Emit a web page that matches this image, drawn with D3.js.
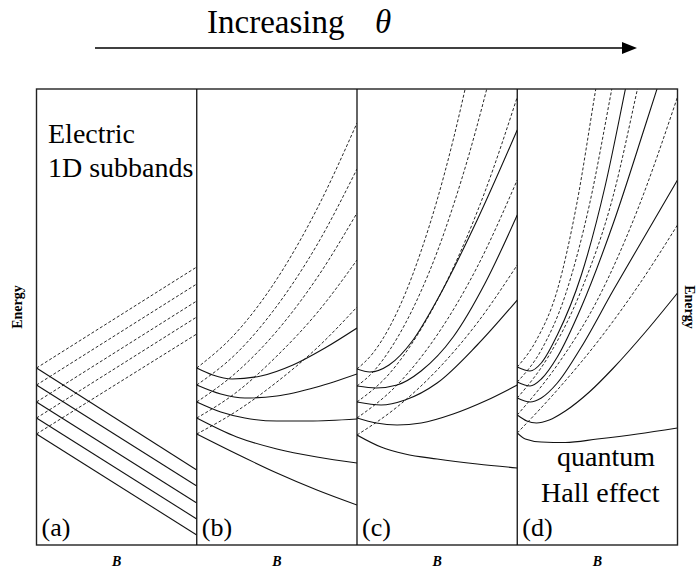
<!DOCTYPE html>
<html>
<head>
<meta charset="utf-8">
<script src="https://cdn.jsdelivr.net/npm/d3@7"></script>
<style>
  body { margin: 0; background: #fff; }
</style>
</head>
<body>
<svg id="chart" width="698" height="572" font-family="'Liberation Serif', 'Times New Roman', Times, 'DejaVu Serif', serif"></svg>
<script>
// Panel captions, axis names and annotations
const panelLabels = ["(a)", "(b)", "(c)", "(d)"];
const xLabel = "B";
const yLabel = "Energy";
const titleText = "Increasing";
const titleSymbol = "\u03B8";

// Subband energies vs. magnetic field B (B spans 0..1 across each panel,
// energy in arbitrary units). Solid and dashed branches per panel.
const solidA = [
  [[0, 177], [1, 75]],
  [[0, 160], [1, 59]],
  [[0, 143], [1, 42]],
  [[0, 127], [1, 26]],
  [[0, 111], [1, 10]]
];
const dashedA = [
  [[0, 177], [1, 278]],
  [[0, 160], [1, 261]],
  [[0, 143], [1, 244]],
  [[0, 127], [1, 228]],
  [[0, 111], [1, 211]]
];

const solidB = [
  [[0, 177], [0.1, 170], [0.22, 166], [0.4, 169], [0.6, 180], [0.8, 197], [1, 217]],
  [[0, 160], [0.15, 151], [0.3, 147], [0.5, 149], [0.75, 158], [1, 171]],
  [[0, 143], [0.15, 133], [0.3, 127], [0.5, 124], [0.7, 124], [1, 126]],
  [[0, 127], [0.25, 108], [0.5, 96], [0.75, 88], [1, 82]],
  [[0, 111], [0.25, 91], [0.5, 72], [0.75, 55], [1, 40]]
];
const dashedB = [
  [[0, 177], [0.25, 213], [0.5, 266], [0.75, 336], [1, 422]],
  [[0, 160], [0.25, 192], [0.5, 239], [0.75, 300], [1, 376]],
  [[0, 143], [0.25, 173], [0.5, 214], [0.75, 267], [1, 332]],
  [[0, 127], [0.25, 153], [0.5, 189], [0.75, 232], [1, 285]],
  [[0, 111], [0.25, 134], [0.5, 163], [0.75, 197], [1, 238]]
];

const solidC = [
  [[0, 176], [0.08, 173], [0.2, 180], [0.35, 205], [0.5, 245], [0.75, 325], [1, 415]],
  [[0, 159], [0.12, 157], [0.25, 160], [0.4, 174], [0.6, 208], [0.8, 262], [1, 330]],
  [[0, 143], [0.15, 140], [0.3, 145], [0.5, 162], [0.75, 200], [1, 245]],
  [[0, 127], [0.12, 122], [0.25, 120], [0.4, 122], [0.6, 131], [0.8, 144], [1, 160]],
  [[0, 110], [0.15, 98], [0.3, 91], [0.5, 86], [0.75, 81], [1, 77]]
];
const dashedC = [
  [[0, 176], [0.1, 192], [0.2, 217], [0.3, 251], [0.4, 294], [0.5, 345], [0.6, 405], [0.7, 474]],
  [[0, 159], [0.1, 173], [0.2, 194], [0.3, 221], [0.4, 254], [0.5, 293], [0.6, 339], [0.7, 391], [0.8, 450], [0.9, 515]],
  [[0, 143], [0.2, 171], [0.4, 216], [0.6, 277], [0.8, 354], [1, 448]],
  [[0, 127], [0.25, 160], [0.5, 210], [0.75, 278], [1, 365]],
  [[0, 110], [0.25, 138], [0.5, 175], [0.75, 222], [1, 280]]
];

const solidD = [
  [[0, 178], [0.08, 174], [0.15, 182], [0.25, 210], [0.4, 270], [0.55, 360], [0.675, 456], [0.8, 555]],
  [[0, 163], [0.08, 159], [0.15, 166], [0.25, 188], [0.4, 238], [0.6, 322], [0.8, 420], [0.9, 470], [1, 520]],
  [[0, 147], [0.08, 143], [0.15, 147], [0.25, 162], [0.4, 198], [0.6, 255], [0.8, 310], [1, 365]],
  [[0, 130], [0.06, 124], [0.12, 122], [0.2, 125], [0.3, 134], [0.45, 153], [0.6, 177], [0.8, 213], [1, 252]],
  [[0, 112], [0.05, 106], [0.15, 103], [0.3, 102.5], [0.5, 106], [0.75, 111], [1, 117]]
];
const dashedD = [
  [[0, 178], [0.12, 205], [0.25, 255], [0.37, 340], [0.49, 456], [0.6, 560]],
  [[0, 163], [0.15, 195], [0.3, 250], [0.45, 340], [0.59, 456], [0.7, 550]],
  [[0, 147], [0.2, 190], [0.4, 255], [0.6, 350], [0.75, 456], [0.85, 530]],
  [[0, 130], [0.25, 180], [0.5, 245], [0.75, 335], [1, 448]],
  [[0, 112], [0.25, 155], [0.5, 203], [0.75, 258], [1, 320]]
];

const panelSolid = [solidA, solidB, solidC, solidD];
const panelDashed = [dashedA, dashedB, dashedC, dashedD];

const svg = d3.select("#chart");
const serif = "'Liberation Serif', 'Times New Roman', Times, 'DejaVu Serif', serif";
const frame = { left: 36.5, right: 677.5, top: 89, bottom: 545 };

const y = d3.scaleLinear().domain([0, 456]).range([frame.bottom, frame.top]);
const band = d3.scaleBand()
  .domain(panelLabels)
  .range([frame.left, frame.right])
  .padding(0);

const defs = svg.append("defs");

function addText(attrs, str) {
  const t = svg.append("text").attr("font-family", serif).attr("fill", "#000");
  Object.entries(attrs).forEach(([k, v]) => t.attr(k, v));
  return t.text(str);
}

panelLabels.forEach((lab, i) => {
  const x0 = band(lab);
  const x = d3.scaleLinear().domain([0, 1]).range([x0, x0 + band.bandwidth()]);
  const clipId = "clip-" + i;
  defs.append("clipPath").attr("id", clipId)
    .append("rect")
    .attr("x", x0).attr("y", frame.top)
    .attr("width", band.bandwidth()).attr("height", frame.bottom - frame.top);

  const line = d3.line()
    .x(d => x(d[0]))
    .y(d => y(d[1]))
    .curve(d3.curveMonotoneX);

  const g = svg.append("g").attr("clip-path", `url(#${clipId})`);

  g.selectAll("path.dashed")
    .data(panelDashed[i])
    .join("path")
    .attr("class", "dashed")
    .attr("d", line)
    .attr("fill", "none")
    .attr("stroke", "#111")
    .attr("stroke-width", 0.9)
    .attr("stroke-dasharray", "3,2");

  g.selectAll("path.solid")
    .data(panelSolid[i])
    .join("path")
    .attr("class", "solid")
    .attr("d", line)
    .attr("fill", "none")
    .attr("stroke", "#111")
    .attr("stroke-width", 1.1);

  // panel caption
  addText({ x: x0 + 5, y: frame.bottom - 9, "font-size": 26 }, lab);

  // B label below each panel
  addText({
    x: x0 + band.bandwidth() / 2, y: 566, "text-anchor": "middle",
    "font-size": 14, "font-weight": "bold", "font-style": "italic"
  }, xLabel);
});

// frame and panel dividers
svg.append("rect")
  .attr("x", frame.left).attr("y", frame.top)
  .attr("width", frame.right - frame.left)
  .attr("height", frame.bottom - frame.top)
  .attr("fill", "none")
  .attr("stroke", "#222")
  .attr("stroke-width", 1.4);

svg.selectAll("line.divider")
  .data(panelLabels.slice(1))
  .join("line")
  .attr("class", "divider")
  .attr("x1", d => band(d)).attr("x2", d => band(d))
  .attr("y1", frame.top).attr("y2", frame.bottom)
  .attr("stroke", "#111")
  .attr("stroke-width", 1.3);

// annotations
addText({ x: 48, y: 143, "font-size": 28 }, "Electric");
addText({ x: 48, y: 177, "font-size": 28 }, "1D subbands");
addText({ x: 557, y: 466, "font-size": 28 }, "quantum");
addText({ x: 541, y: 502, "font-size": 28 }, "Hall effect");

// energy axis names on both sides
const midY = (frame.top + frame.bottom) / 2;
addText({
  transform: `translate(22,${midY - 10}) rotate(-90)`, "text-anchor": "middle",
  "font-size": 14, "font-weight": "bold"
}, yLabel);
addText({
  transform: `translate(685,${midY - 10}) rotate(90)`, "text-anchor": "middle",
  "font-size": 14, "font-weight": "bold"
}, yLabel);

// heading with arrow
addText({ x: 207, y: 33, "font-size": 33 }, titleText);
addText({ x: 375, y: 33, "font-size": 33, "font-style": "italic" }, titleSymbol);
svg.append("line")
  .attr("x1", 95).attr("x2", 624).attr("y1", 48).attr("y2", 48)
  .attr("stroke", "#000").attr("stroke-width", 1.5);
svg.append("path")
  .attr("d", d3.line()([[622, 42], [637, 48], [622, 54]]) + "Z")
  .attr("fill", "#000");
</script>
</body>
</html>
